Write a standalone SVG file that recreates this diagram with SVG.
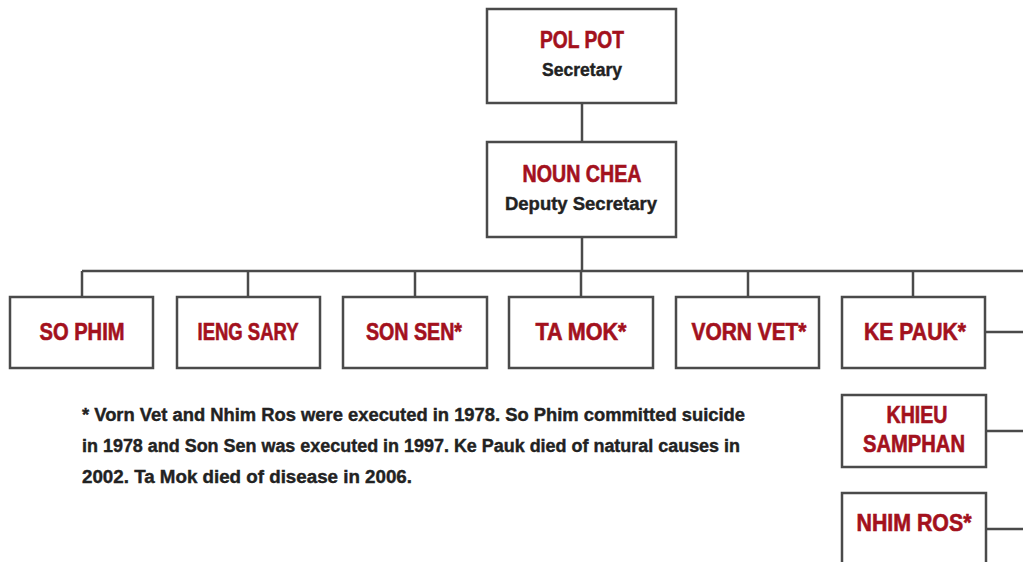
<svg xmlns="http://www.w3.org/2000/svg" width="1023" height="562" viewBox="0 0 1023 562">
<style>
.box{fill:#fff;stroke:#4a4a4a;stroke-width:2.5}
.name{font-family:"Liberation Sans",Arial,sans-serif;font-weight:bold;fill:#a3111d;stroke:#a3111d;stroke-width:0.6;text-anchor:middle;font-size:23px}
.role{font-family:"Liberation Sans",Arial,sans-serif;font-weight:bold;fill:#222;stroke:#222;stroke-width:0.4;text-anchor:middle;font-size:18px}
.note{font-family:"Liberation Sans",Arial,sans-serif;font-weight:bold;fill:#222;stroke:#222;stroke-width:0.4;font-size:18px}
.con{fill:none;stroke:#4a4a4a;stroke-width:2.5}
</style>
<rect width="1023" height="562" fill="#fff"/>
<g id="connectors">
<line class="con" x1="582" y1="103" x2="582" y2="141"/>
<line class="con" x1="582" y1="237" x2="582" y2="271"/>
<line class="con" x1="82" y1="271" x2="1023" y2="271"/>
<line class="con" x1="82" y1="271" x2="82" y2="297"/>
<line class="con" x1="248" y1="271" x2="248" y2="297"/>
<line class="con" x1="415" y1="271" x2="415" y2="297"/>
<line class="con" x1="581" y1="271" x2="581" y2="297"/>
<line class="con" x1="748" y1="271" x2="748" y2="297"/>
<line class="con" x1="913" y1="271" x2="913" y2="297"/>
<line class="con" x1="985" y1="332" x2="1023" y2="332"/>
<line class="con" x1="986" y1="431" x2="1023" y2="431"/>
<line class="con" x1="986" y1="529" x2="1023" y2="529"/>
</g>
<g id="polpot"><rect class="box" x="487" y="9" width="189" height="94"/><text class="name" x="582" y="48" textLength="84" lengthAdjust="spacingAndGlyphs">POL POT</text><text class="role" x="582" y="76" textLength="80" lengthAdjust="spacingAndGlyphs">Secretary</text></g>
<g id="nounchea"><rect class="box" x="487" y="142" width="189" height="95"/><text class="name" x="582" y="182" textLength="119" lengthAdjust="spacingAndGlyphs">NOUN CHEA</text><text class="role" x="581" y="210" textLength="152" lengthAdjust="spacingAndGlyphs">Deputy Secretary</text></g>
<g id="sophim"><rect class="box" x="10" y="297" width="143" height="71"/><text class="name" x="82" y="340" textLength="85" lengthAdjust="spacingAndGlyphs">SO PHIM</text></g>
<g id="iengsary"><rect class="box" x="177" y="297" width="143" height="71"/><text class="name" x="248" y="340" textLength="101" lengthAdjust="spacingAndGlyphs">IENG SARY</text></g>
<g id="sonsen"><rect class="box" x="343" y="297" width="144" height="71"/><text class="name" x="414" y="340" textLength="96" lengthAdjust="spacingAndGlyphs">SON SEN*</text></g>
<g id="tamok"><rect class="box" x="509" y="297" width="144" height="71"/><text class="name" x="581" y="340" textLength="91" lengthAdjust="spacingAndGlyphs">TA MOK*</text></g>
<g id="vornvet"><rect class="box" x="676" y="297" width="143" height="71"/><text class="name" x="749" y="340" textLength="115" lengthAdjust="spacingAndGlyphs">VORN VET*</text></g>
<g id="kepauk"><rect class="box" x="842" y="297" width="143" height="71"/><text class="name" x="915" y="340" textLength="102" lengthAdjust="spacingAndGlyphs">KE PAUK*</text></g>
<g id="khieusamphan"><rect class="box" x="842" y="395" width="144" height="72"/><text class="name" x="917" y="423" textLength="61" lengthAdjust="spacingAndGlyphs">KHIEU</text><text class="name" x="914" y="452" textLength="102" lengthAdjust="spacingAndGlyphs">SAMPHAN</text></g>
<g id="nhimros"><rect class="box" x="842" y="493" width="144" height="80"/><text class="name" x="914" y="531" textLength="115" lengthAdjust="spacingAndGlyphs">NHIM ROS*</text></g>
<g id="footnote">
<text class="note" x="82" y="421" textLength="663" lengthAdjust="spacingAndGlyphs">* Vorn Vet and Nhim Ros were executed in 1978. So Phim committed suicide</text>
<text class="note" x="82" y="452" textLength="658" lengthAdjust="spacingAndGlyphs">in 1978 and Son Sen was executed in 1997. Ke Pauk died of natural causes in</text>
<text class="note" x="82" y="483" textLength="330" lengthAdjust="spacingAndGlyphs">2002. Ta Mok died of disease in 2006.</text>
</g>
</svg>
